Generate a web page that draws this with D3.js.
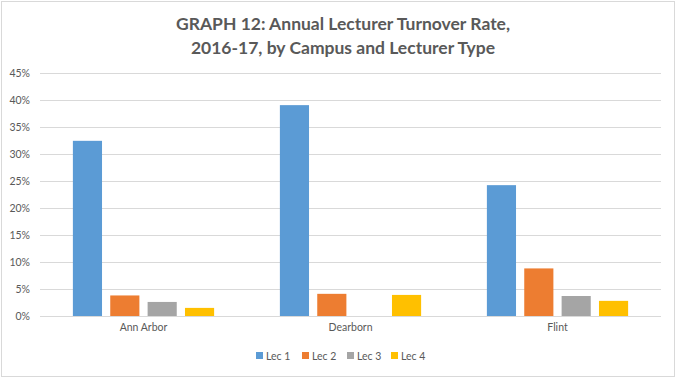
<!DOCTYPE html>
<html><head><meta charset="utf-8">
<script src="https://cdn.jsdelivr.net/npm/d3@7"></script>
<style>body{margin:0;background:#fff;}svg{display:block;}</style>
</head><body>
<svg id="c" width="686" height="390"></svg>
<script>
const campuses = ["Ann Arbor", "Dearborn", "Flint"];
const seriesNames = ["Lec 1", "Lec 2", "Lec 3", "Lec 4"];
const lec1 = [0.324, 0.390, 0.242];
const lec2 = [0.038, 0.041, 0.088];
const lec3 = [0.026, 0.000, 0.037];
const lec4 = [0.015, 0.039, 0.028];
const yTicks = [0, 0.05, 0.10, 0.15, 0.20, 0.25, 0.30, 0.35, 0.40, 0.45];
const colors = ["#5B9BD5", "#ED7D31", "#A5A5A5", "#FFC000"];
const titleLines = ["GRAPH 12: Annual Lecturer Turnover Rate,", "2016-17, by Campus and  Lecturer Type"];

const seriesVals = [lec1, lec2, lec3, lec4];
const svg = d3.select("#c");
const W = 686, H = 390;
const font = "Lato, 'Open Sans', sans-serif";

svg.append("rect").attr("x", 1.5).attr("y", 1.5).attr("width", 673).attr("height", 375)
  .attr("fill", "#fff").attr("stroke", "#d9d9d9");

const m = {left: 40, right: 25, top: 72.7};
const x0 = d3.scaleBand().domain(campuses).range([m.left, W - m.right]).paddingInner(0).paddingOuter(0);
const x1 = d3.scaleBand().domain(seriesNames).range([0, x0.bandwidth()]).paddingInner(0.22).paddingOuter(0.88);
const y = d3.scaleLinear().domain([0, 0.45]).range([316, m.top]);

// gridlines
svg.append("g").selectAll("line").data(yTicks).join("line")
  .attr("x1", m.left).attr("x2", W - m.right)
  .attr("y1", d => Math.round(y(d)) + 0.5).attr("y2", d => Math.round(y(d)) + 0.5)
  .attr("stroke", "#d9d9d9").attr("stroke-width", 1);

// y axis labels
const yAxis = d3.axisLeft(y).tickValues(yTicks).tickFormat(d3.format(".0%")).tickSize(0).tickPadding(0);
const ga = svg.append("g").attr("transform", `translate(${m.left - 10},0)`).call(yAxis);
ga.select(".domain").remove();
ga.selectAll("text").attr("fill", "#595959").attr("font-size", 10.5).attr("font-family", font);

// bars
const groups = svg.append("g").selectAll("g").data(campuses).join("g")
  .attr("transform", d => `translate(${x0(d)},0)`);
groups.selectAll("rect").data((c, i) => seriesNames.map((s, j) => ({s, j, v: seriesVals[j][i]})))
  .join("rect")
  .attr("x", d => x1(d.s)).attr("width", x1.bandwidth())
  .attr("y", d => y(d.v)).attr("height", d => y(0) - y(d.v))
  .attr("fill", d => colors[d.j]);

// x axis labels
const xAxis = d3.axisBottom(x0).tickSize(0).tickPadding(0);
const gx = svg.append("g").attr("transform", `translate(0,${y(0) + 8})`).call(xAxis);
gx.select(".domain").remove();
gx.selectAll("text").attr("fill", "#595959").attr("font-size", 10.5).attr("font-family", font);

// title
svg.append("g").selectAll("text").data(titleLines).join("text")
  .attr("x", 343).attr("y", (d, i) => 30 + i * 24)
  .attr("text-anchor", "middle").attr("fill", "#595959")
  .attr("font-family", font).attr("font-weight", "bold").attr("font-size", 17.5)
  .text(d => d);

// legend
const legendX = [256, 302, 347, 391];
const lg = svg.append("g").selectAll("g").data(seriesNames).join("g")
  .attr("transform", (d, i) => `translate(${legendX[i]},352)`);
lg.append("rect").attr("width", 7).attr("height", 7).attr("fill", (d, i) => colors[i]);
lg.append("text").attr("x", 10).attr("y", 7.5).attr("fill", "#595959")
  .attr("font-size", 10.5).attr("font-family", font).text(d => d);
</script>
</body></html>
